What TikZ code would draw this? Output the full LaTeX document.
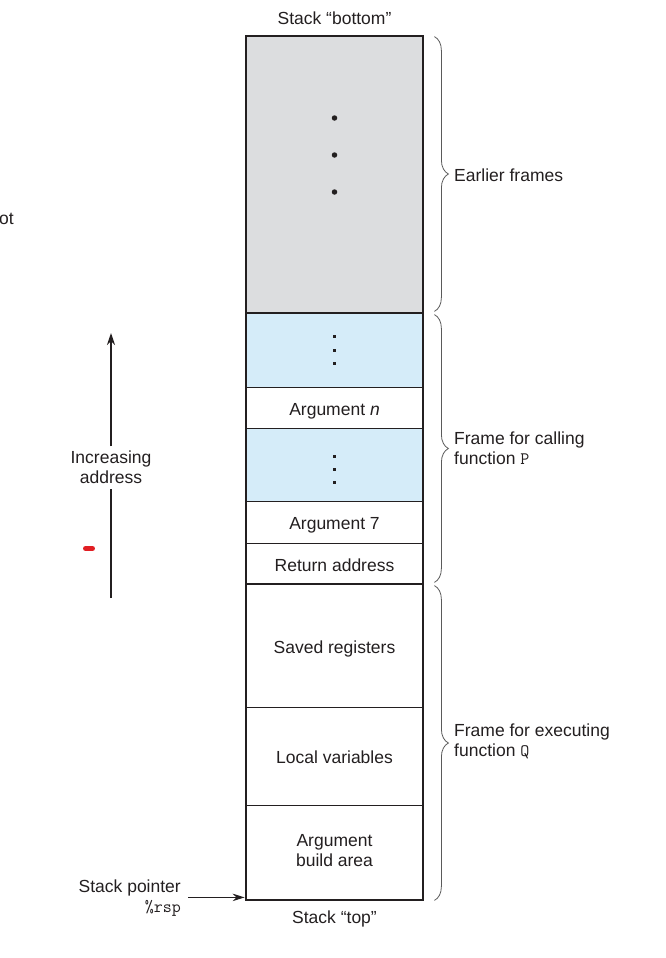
\documentclass[tikz,border=0pt]{standalone}
\usepackage{fontspec}
\setmainfont{Liberation Sans}
\usetikzlibrary{arrows.meta,decorations.pathreplacing,calc}
\definecolor{inkc}{RGB}{35,31,32}
\definecolor{grayfill}{RGB}{220,221,223}
\definecolor{bluefill}{RGB}{213,236,249}
\definecolor{bracec}{RGB}{90,90,90}
\definecolor{redmark}{RGB}{225,30,35}
\begin{document}
\begin{tikzpicture}[x=1pt,y=1pt,
  every node/.style={font=\fontsize{17.5}{20}\selectfont, text=inkc},
  cell/.style={draw=inkc, line width=0.8pt, minimum width=177pt, inner sep=0pt, align=center},
  onetext/.style={text height=15pt, text depth=0pt},
  thickline/.style={draw=inkc, line width=2pt},
  bracestyle/.style={draw=bracec, line width=0.8pt, decorate, decoration={brace, amplitude=14pt}},
  lbl/.style={anchor=west, align=left, inner sep=0pt},
  dotbig/.style={circle, fill=inkc, inner sep=0pt, minimum size=5.5pt},
  dotsmall/.style={rectangle, fill=inkc, inner sep=0pt, minimum size=3pt}]
\useasboundingbox (0,0) rectangle (666,-958);
% cells
\node[cell, fill=grayfill, minimum height=277pt] (gray) at (334.5,-174.5) {};
\node[cell, fill=bluefill, minimum height=74pt] (blue1) at (334.5,-350) {};
\node[cell, onetext, fill=white, minimum height=41pt] (argn) at (334.5,-407.5) {Argument \textit{n}};
\node[cell, fill=bluefill, minimum height=73pt] (blue2) at (334.5,-464.5) {};
\node[cell, onetext, fill=white, minimum height=42pt] (arg7) at (334.5,-522) {Argument 7};
\node[cell, onetext, fill=white, minimum height=41pt] (ret) at (334.5,-563.5) {Return address};
\node[cell, onetext, fill=white, minimum height=123pt] (saved) at (334.5,-645.5) {Saved registers};
\node[cell, onetext, fill=white, minimum height=98pt] (local) at (334.5,-756) {Local variables};
\node[cell, fill=white, minimum height=95pt] (build) at (334.5,-852.5) {};
\node[align=center, inner sep=0pt] (buildtxt) at (334.5,-850.5) {Argument\\build area};
% thick lines
\draw[thickline] (gray.north west) rectangle (build.south east);
\draw[thickline] (gray.south west) -- (gray.south east);
\draw[thickline] (ret.south west) -- (ret.south east);
% dots
\node[dotbig] (g1) at (334.5,-118) {};
\node[dotbig] (g2) at (334.5,-155) {};
\node[dotbig] (g3) at (334.5,-192) {};
\node[dotsmall] (b11) at (334.5,-336) {};
\node[dotsmall] (b12) at (334.5,-350) {};
\node[dotsmall] (b13) at (334.5,-363) {};
\node[dotsmall] (b21) at (334.5,-456) {};
\node[dotsmall] (b22) at (334.5,-469) {};
\node[dotsmall] (b23) at (334.5,-482) {};
% top/bottom labels
\node (bottomlbl) at (334.5,-18) {Stack “bottom”};
\node (toplbl) at (334.5,-919) {Stack “top”};
% braces
\draw[bracestyle] ($(gray.north east)+(11,-1)$) -- ($(gray.south east)+(11,2)$);
\draw[bracestyle] ($(blue1.north east)+(11,-2)$) -- ($(ret.south east)+(11,2)$);
\draw[bracestyle] ($(saved.north east)+(11,-2)$) -- ($(build.south east)+(11,0)$);
\node[lbl] (earlier) at (454,-175) {Earlier frames};
\node[lbl] (framep) at (454,-448) {Frame for calling\\function \texttt{P}};
\node[lbl] (frameq) at (454,-741) {Frame for executing\\function \texttt{Q}};
% increasing address arrow
\coordinate (abot) at (111,-598);
\coordinate (atop) at (111,-333);
\node[align=center, inner xsep=2pt, inner ysep=4.5pt] (incr) at (111,-467.5) {Increasing\\address};
\draw[inkc, line width=1.2pt] (abot) -- (incr.south);
\draw[inkc, line width=1.2pt, -{Stealth[length=12pt,width=8pt]}] (incr.north) -- (atop);
% red mark
\coordinate (r1) at (85.5,-548.5);
\coordinate (r2) at (92.5,-548.5);
\draw[redmark, line width=5pt, line cap=round] (r1) -- (r2);
% clipped text
\node[anchor=base west, inner sep=0pt] (ot) at (-1,-224) {ot};
% stack pointer
\node[anchor=east, align=right, inner sep=0pt] (sp) at (181,-898) {Stack pointer\\\texttt{\%rsp}};
\coordinate (spend) at ($(build.south west)+(-1,3)$);
\draw[inkc, line width=1pt, -{Stealth[length=12pt,width=7.5pt]}, shorten <=7pt] (sp.east |- spend) -- (spend);
\end{tikzpicture}
\end{document}
